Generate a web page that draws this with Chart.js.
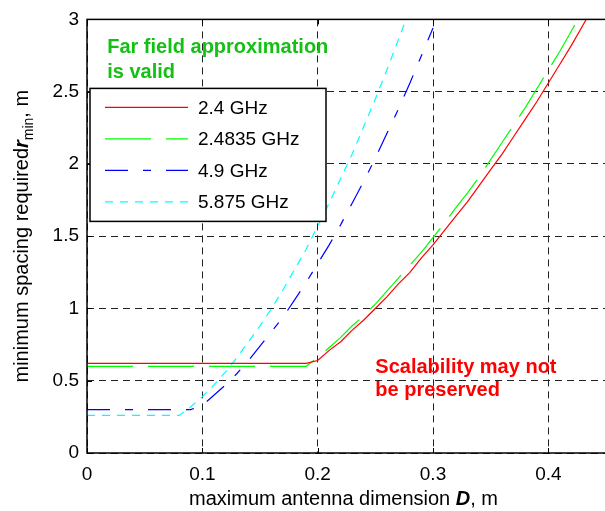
<!DOCTYPE html>
<html>
<head>
<meta charset="utf-8">
<script src="https://cdn.jsdelivr.net/npm/chart.js@4.4.1/dist/chart.umd.min.js"></script>
<style>
  html, body { margin: 0; padding: 0; background: #fff; overflow: hidden; }
  #wrap { width: 607px; height: 511px; position: relative; }
</style>
</head>
<body>
<div id="wrap"><canvas id="c"></canvas></div>
<script>
// maximum antenna dimension D (m)
const antennaD = [
  0.00, 0.01, 0.02, 0.03, 0.04, 0.05, 0.06, 0.07, 0.08, 0.09,
  0.10, 0.11, 0.12, 0.13, 0.14, 0.15, 0.16, 0.17, 0.18, 0.19,
  0.20, 0.21, 0.22, 0.23, 0.24, 0.25, 0.26, 0.27, 0.28, 0.29,
  0.30, 0.31, 0.32, 0.33, 0.34, 0.35, 0.36, 0.37, 0.38, 0.39,
  0.40, 0.41, 0.42, 0.43, 0.44
];

// minimum spacing r_min (m) for each band
const rmin24 = [
  0.62, 0.62, 0.62, 0.62, 0.62, 0.62, 0.62, 0.62, 0.62, 0.62,
  0.62, 0.62, 0.62, 0.62, 0.62, 0.62, 0.62, 0.62, 0.62, 0.62,
  0.64, 0.71, 0.77, 0.85, 0.92, 1.00, 1.08, 1.17, 1.25, 1.35,
  1.44, 1.54, 1.64, 1.74, 1.85, 1.96, 2.07, 2.19, 2.31, 2.43,
  2.56, 2.69, 2.82, 2.96, 3.10
];
const rmin24835 = [
  0.60, 0.60, 0.60, 0.60, 0.60, 0.60, 0.60, 0.60, 0.60, 0.60,
  0.60, 0.60, 0.60, 0.60, 0.60, 0.60, 0.60, 0.60, 0.60, 0.60,
  0.66, 0.73, 0.80, 0.88, 0.95, 1.03, 1.12, 1.21, 1.30, 1.39,
  1.49, 1.59, 1.70, 1.80, 1.91, 2.03, 2.15, 2.27, 2.39, 2.52,
  2.65, 2.78, 2.92, 3.06, 3.21
];
const rmin49 = [
  0.30, 0.30, 0.30, 0.30, 0.30, 0.30, 0.30, 0.30, 0.30, 0.30,
  0.33, 0.40, 0.47, 0.55, 0.64, 0.74, 0.84, 0.94, 1.06, 1.18,
  1.31, 1.44, 1.58, 1.73, 1.88, 2.04, 2.21, 2.38, 2.56, 2.75,
  2.94, null, null, null, null, null, null, null, null, null,
  null, null, null, null, null
];
const rmin5875 = [
  0.26, 0.26, 0.26, 0.26, 0.26, 0.26, 0.26, 0.26, 0.26, 0.32,
  0.39, 0.47, 0.56, 0.66, 0.77, 0.88, 1.00, 1.13, 1.27, 1.41,
  1.57, 1.73, 1.90, 2.07, 2.26, 2.45, 2.65, 2.86, 3.07, null,
  null, null, null, null, null, null, null, null, null, null,
  null, null, null, null, null
];

const bandLabels = ["2.4 GHz", "2.4835 GHz", "4.9 GHz", "5.875 GHz"];
const xTickValues = [0, 0.1, 0.2, 0.3, 0.4];
const yTickValues = [0, 0.5, 1, 1.5, 2, 2.5, 3];

const FONT = '"Liberation Sans", Arial, sans-serif';
Chart.defaults.font.family = FONT;
Chart.defaults.color = "#000";

const toPoints = ys => antennaD.map((d, i) => ({ x: d, y: ys[i] }));

function series(label, ys, color, dash) {
  return {
    label: label,
    data: toPoints(ys),
    borderColor: color,
    backgroundColor: color,
    borderWidth: 1.2,
    borderDash: dash,
    pointRadius: 0,
    tension: 0,
    spanGaps: false
  };
}

// legend box, inward ticks, frame and text notes
const decorations = {
  id: "decorations",
  afterDatasetsDraw(chart) {
    const ctx = chart.ctx;
    const a = chart.chartArea;
    const xs = chart.scales.x, ys = chart.scales.y;
    ctx.save();

    // inward tick marks
    ctx.strokeStyle = "#000";
    ctx.lineWidth = 1;
    ctx.setLineDash([]);
    ctx.beginPath();
    xTickValues.forEach(v => {
      const px = Math.round(xs.getPixelForValue(v)) + 0.5;
      ctx.moveTo(px, a.bottom); ctx.lineTo(px, a.bottom - 5);
      ctx.moveTo(px, a.top); ctx.lineTo(px, a.top + 5);
    });
    yTickValues.forEach(v => {
      const py = Math.round(ys.getPixelForValue(v)) + 0.5;
      ctx.moveTo(a.left, py); ctx.lineTo(a.left + 5, py);
    });
    ctx.stroke();

    // frame
    ctx.lineWidth = 1.5;
    ctx.strokeRect(a.left, a.top, a.right - a.left, a.bottom - a.top);

    // legend
    const lx = a.left + 3, ly = a.top + 69, lw = 236, lh = 133;
    ctx.fillStyle = "#fff";
    ctx.fillRect(lx, ly, lw, lh);
    ctx.lineWidth = 1.5;
    ctx.strokeStyle = "#000";
    ctx.strokeRect(lx, ly, lw, lh);
    ctx.font = "19px " + FONT;
    ctx.textBaseline = "middle";
    ctx.textAlign = "left";
    chart.data.datasets.forEach((ds, i) => {
      const cy = ly + 19 + i * 31.5;
      ctx.strokeStyle = ds.borderColor;
      ctx.lineWidth = 1.2;
      ctx.setLineDash(ds.borderDash || []);
      ctx.beginPath();
      ctx.moveTo(lx + 15, cy); ctx.lineTo(lx + 98, cy);
      ctx.stroke();
      ctx.setLineDash([]);
      ctx.fillStyle = "#000";
      ctx.fillText(ds.label, lx + 108, cy + 1);
    });

    // notes
    ctx.textBaseline = "alphabetic";
    ctx.font = "bold 20px " + FONT;
    ctx.fillStyle = "#14c014";
    const fx = xs.getPixelForValue(0.0175), fy = ys.getPixelForValue(2.765);
    ctx.fillText("Far field approximation", fx, fy);
    ctx.fillText("is valid", fx, fy + 25);
    ctx.fillStyle = "#ff0000";
    const sx = xs.getPixelForValue(0.25), sy = ys.getPixelForValue(0.553);
    ctx.fillText("Scalability may not", sx, sy);
    ctx.fillText("be preserved", sx, sy + 23);

    // axis titles with mixed styles
    const regular = "20px " + FONT, boldIt = "italic bold 20px " + FONT, small = "14px " + FONT;
    const runs = (parts, x, y, center) => {
      let w = 0;
      parts.forEach(p => { ctx.font = p[1]; w += ctx.measureText(p[0]).width; });
      let cx = center ? x - w / 2 : x;
      parts.forEach(p => {
        ctx.font = p[1];
        ctx.fillText(p[0], cx, y + (p[2] || 0));
        cx += ctx.measureText(p[0]).width;
      });
    };
    ctx.fillStyle = "#000";
    ctx.textAlign = "left";
    runs([["maximum antenna dimension ", regular], ["D", boldIt], [", m", regular]],
         (a.left + a.right) / 2 - 3, 505, true);

    ctx.translate(28, (a.top + a.bottom) / 2);
    ctx.rotate(-Math.PI / 2);
    runs([["minimum spacing required", regular], ["r", boldIt], ["min", small, 5], [", m", regular]],
         0, 0, true);

    ctx.restore();
  }
};

new Chart(document.getElementById("c"), {
  type: "line",
  data: {
    datasets: [
      series(bandLabels[0], rmin24, "#ff0000", []),
      series(bandLabels[1], rmin24835, "#00ff00", [46, 15]),
      series(bandLabels[2], rmin49, "#0000ff", [23, 15, 8, 15]),
      series(bandLabels[3], rmin5875, "#00ffff", [8, 7])
    ]
  },
  options: {
    responsive: true,
    maintainAspectRatio: false,
    animation: false,
    events: [],
    layout: { padding: { top: 17, left: 0, right: 1, bottom: 0 } },
    plugins: {
      legend: { display: false },
      tooltip: { enabled: false },
      title: { display: false }
    },
    scales: {
      x: {
        type: "linear",
        min: 0,
        max: 0.45,
        afterBuildTicks: s => { s.ticks = xTickValues.map(v => ({ value: v })); },
        afterFit: s => { s.height = 58; },
        grid: { color: "#222", lineWidth: 1, drawTicks: false },
        border: { display: false, dash: [7, 5] },
        ticks: { font: { size: 19 }, padding: 10, maxRotation: 0, callback: v => String(v) }
      },
      y: {
        type: "linear",
        min: 0,
        max: 3,
        afterBuildTicks: s => { s.ticks = yTickValues.map(v => ({ value: v })); },
        afterFit: s => { s.width = 87; },
        grid: { color: "#222", lineWidth: 1, drawTicks: false },
        border: { display: false, dash: [7, 5] },
        ticks: { font: { size: 19 }, padding: 8, callback: v => String(v) }
      }
    }
  },
  plugins: [decorations]
});
</script>
</body>
</html>
